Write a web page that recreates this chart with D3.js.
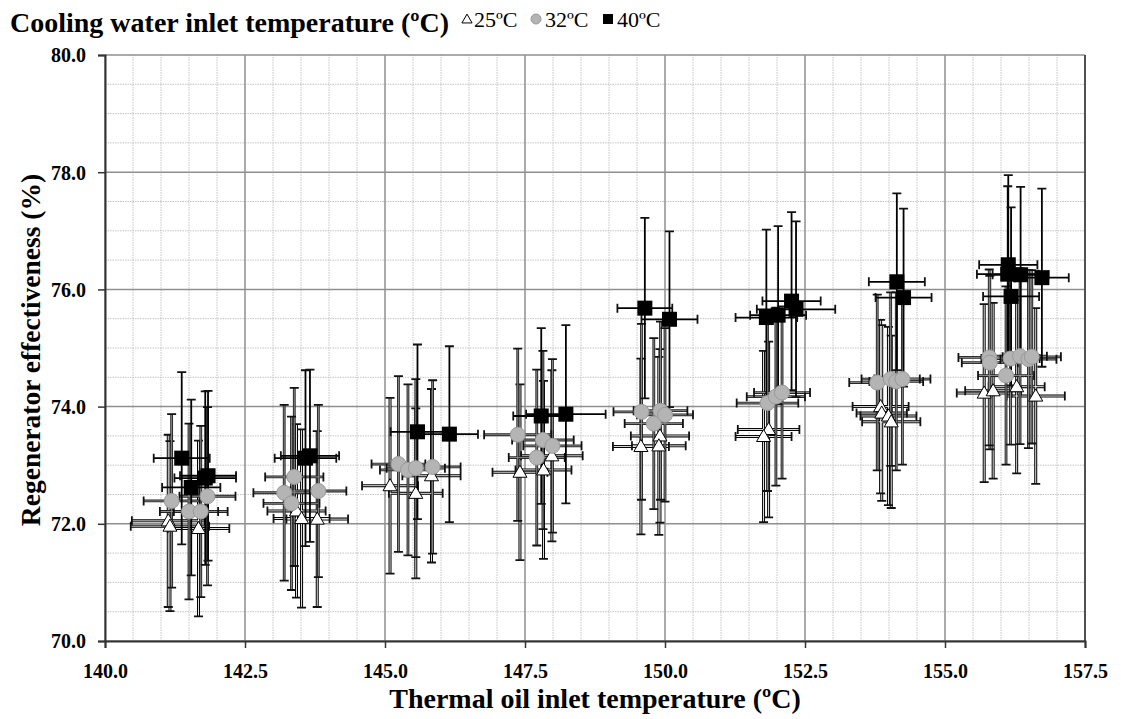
<!DOCTYPE html>
<html lang="en">
<head>
    <meta charset="UTF-8">
    <title>Regenerator effectiveness</title>
    <script src="https://cdn.jsdelivr.net/npm/d3@7"></script>
    <style>
        body { margin: 0; background: #fff; }
        svg text { font-family: "Liberation Serif", "Times New Roman", serif; }
    </style>
</head>
<body>
<svg id="chart" width="1121" height="719"></svg>
<script>
    // 25ºC series (triangles)
    var x25 = [141.13, 141.16, 141.67, 143.42, 143.51, 143.79, 145.09, 145.55, 145.83, 147.41, 147.83, 147.98,
        149.57, 149.91, 149.89, 151.85, 151.76, 153.85, 153.87, 153.99, 154.04, 155.70, 155.86, 156.28, 156.62];
    var y25 = [72.05, 71.96, 71.92, 72.22, 72.09, 72.08, 72.65, 72.52, 72.82, 72.88, 72.92, 73.16,
        73.32, 73.50, 73.33, 73.61, 73.49, 74.00, 73.89, 73.84, 73.74, 74.23, 74.27, 74.34, 74.18];
    var xe25 = [0.65, 0.70, 0.55, 0.52, 0.50, 0.55, 0.50, 0.48, 0.52, 0.49, 0.50, 0.55,
        0.50, 0.52, 0.48, 0.55, 0.50, 0.50, 0.45, 0.50, 0.52, 0.49, 0.50, 0.50, 0.52];
    var ye25 = [1.47, 1.45, 1.50, 1.48, 1.52, 1.50, 1.50, 1.45, 1.48, 1.50, 1.52, 1.46,
        1.50, 1.48, 1.52, 1.50, 1.46, 1.48, 1.50, 1.52, 1.47, 1.52, 1.50, 1.48, 1.50];

    // 32ºC series (circles)
    var x32 = [141.19, 141.50, 141.71, 141.83, 143.20, 143.33, 143.38, 143.81, 145.24, 145.41, 145.55, 145.85,
        147.37, 147.71, 147.82, 147.99, 149.58, 149.80, 149.92, 150.00, 151.83, 151.98, 152.09,
        153.79, 154.03, 154.13, 154.24, 155.79, 155.80, 156.09, 156.17, 156.34, 156.49, 156.55];
    var y32 = [72.39, 72.21, 72.21, 72.47, 72.53, 72.35, 72.80, 72.56, 73.02, 72.92, 72.95, 72.97,
        73.52, 73.13, 73.43, 73.33, 73.91, 73.71, 73.93, 73.86, 74.06, 74.17, 74.24,
        74.41, 74.47, 74.43, 74.47, 74.84, 74.75, 74.53, 74.82, 74.86, 74.81, 74.85];
    var xe32 = [0.50, 0.52, 0.48, 0.50, 0.55, 0.50, 0.52, 0.50, 0.48, 0.50, 0.52, 0.50,
        0.60, 0.50, 0.55, 0.52, 0.50, 0.52, 0.48, 0.50, 0.55, 0.52, 0.50,
        0.50, 0.52, 0.48, 0.50, 0.55, 0.50, 0.50, 0.52, 0.48, 0.50, 0.52];
    var ye32 = [1.48, 1.50, 1.46, 1.52, 1.50, 1.48, 1.52, 1.47, 1.50, 1.46, 1.52, 1.48,
        1.47, 1.50, 1.52, 1.48, 1.50, 1.46, 1.52, 1.48, 1.50, 1.52, 1.47,
        1.50, 1.48, 1.52, 1.46, 1.50, 1.48, 1.52, 1.47, 1.50, 1.52, 1.48];

    // 40ºC series (squares)
    var x40 = [141.37, 141.54, 141.79, 141.84, 143.58, 143.66, 145.58, 146.15, 147.79, 148.23,
        149.64, 150.08, 151.81, 152.02, 152.26, 152.34, 154.14, 154.26, 156.12, 156.13, 156.18, 156.35, 156.73];
    var y40 = [73.12, 72.62, 72.78, 72.82, 73.12, 73.16, 73.57, 73.53, 73.84, 73.87,
        75.68, 75.49, 75.52, 75.56, 75.80, 75.66, 76.13, 75.86, 76.26, 76.42, 75.88, 76.25, 76.20];
    var xe40 = [0.50, 0.52, 0.55, 0.50, 0.55, 0.52, 0.48, 0.51, 0.50, 0.71,
        0.49, 0.50, 0.55, 0.50, 0.52, 0.70, 0.50, 0.50, 0.55, 0.52, 0.50, 0.50, 0.48];
    var ye40 = [1.47, 1.50, 1.48, 1.45, 1.50, 1.47, 1.49, 1.50, 1.50, 1.52,
        1.54, 1.50, 1.50, 1.52, 1.52, 1.50, 1.51, 1.52, 1.50, 1.53, 1.52, 1.50, 1.52];

    var xTicks = [140.0, 142.5, 145.0, 147.5, 150.0, 152.5, 155.0, 157.5];
    var yTicks = [70.0, 72.0, 74.0, 76.0, 78.0, 80.0];

    var series = [
        { name: "25ºC", x: x25, y: y25, xe: xe25, ye: ye25, shape: "tri" },
        { name: "32ºC", x: x32, y: y32, xe: xe32, ye: ye32, shape: "circle" },
        { name: "40ºC", x: x40, y: y40, xe: xe40, ye: ye40, shape: "square" }
    ];

    var margin = { left: 105, right: 36, top: 55, bottom: 78 };
    var svg = d3.select("#chart");
    var width = +svg.attr("width"), height = +svg.attr("height");

    var x = d3.scaleLinear().domain([140, 157.5]).range([margin.left, width - margin.right]);
    var y = d3.scaleLinear().domain([70, 80]).range([height - margin.bottom, margin.top]);

    // minor grid every 0.5
    var grid = svg.append("g");
    var minorX = d3.range(140, 157.51, 0.5).filter(function (v) { return Math.abs(v / 2.5 - Math.round(v / 2.5)) > 1e-6; });
    var minorY = d3.range(70, 80.01, 0.5).filter(function (v) { return Math.abs(v / 2 - Math.round(v / 2)) > 1e-6; });
    grid.selectAll(".mx").data(minorX).enter().append("line")
        .attr("x1", d => x(d)).attr("x2", d => x(d))
        .attr("y1", y(70)).attr("y2", y(80))
        .attr("stroke", "#c4c4c4").attr("stroke-width", 1).attr("stroke-dasharray", "1.5,1");
    grid.selectAll(".my").data(minorY).enter().append("line")
        .attr("x1", x(140)).attr("x2", x(157.5))
        .attr("y1", d => y(d)).attr("y2", d => y(d))
        .attr("stroke", "#c4c4c4").attr("stroke-width", 1).attr("stroke-dasharray", "1.5,1");
    // major grid
    grid.selectAll(".Mx").data(xTicks).enter().append("line")
        .attr("x1", d => x(d)).attr("x2", d => x(d))
        .attr("y1", y(70)).attr("y2", y(80))
        .attr("stroke", "#8f8f8f").attr("stroke-width", 1.5);
    grid.selectAll(".My").data(yTicks).enter().append("line")
        .attr("x1", x(140)).attr("x2", x(157.5))
        .attr("y1", d => y(d)).attr("y2", d => y(d))
        .attr("stroke", "#8f8f8f").attr("stroke-width", 1.5);
    svg.append("line").attr("x1", x(157.5)).attr("x2", x(157.5)).attr("y1", y(70)).attr("y2", y(80))
        .attr("stroke", "#333").attr("stroke-width", 1.5);

    // axes
    var yAxis = d3.axisLeft(y).tickValues(yTicks).tickFormat(d3.format(".1f")).tickSize(7).tickPadding(12);
    var xAxis = d3.axisBottom(x).tickValues(xTicks).tickFormat(d3.format(".1f")).tickSize(7).tickPadding(16);
    var ga = svg.append("g").attr("transform", "translate(" + x(140) + ",0)").call(yAxis);
    var gb = svg.append("g").attr("transform", "translate(0," + y(70) + ")").call(xAxis);
    [ga, gb].forEach(function (g) {
        g.attr("font-family", null).attr("font-size", null);
        g.select(".domain").attr("stroke", "#333").attr("stroke-width", 2);
        g.selectAll(".tick line").attr("stroke", "#333").attr("stroke-width", 1.5);
        g.selectAll(".tick text").attr("fill", "#000")
            .style("font-family", '"Liberation Serif", serif').style("font-size", "20px").style("font-weight", "bold");
    });
    ga.selectAll(".tick text").attr("dy", "0.34em");

    // error bars
    var cap = 4.5;
    var eb = svg.append("g");
    var ebStyle = {
        tri: [{ c: "#000", w: 3 }, { c: "#fff", w: 0.9 }],
        circle: [{ c: "#222", w: 2.8 }, { c: "#8a8a8a", w: 1 }],
        square: [{ c: "#000", w: 1.8 }]
    };
    series.forEach(function (s) {
        var idx = d3.range(s.x.length);
        ebStyle[s.shape].forEach(function (st) {
            var g = eb.append("g").attr("stroke", st.c).attr("stroke-width", st.w).attr("fill", "none");
            g.selectAll(".v").data(idx).enter().append("path")
                .attr("d", function (i) {
                    var cx = x(s.x[i]), t = y(s.y[i] + s.ye[i]), b = y(s.y[i] - s.ye[i]);
                    return "M" + cx + "," + t + "V" + b;
                });
            g.selectAll(".h").data(idx).enter().append("path")
                .attr("d", function (i) {
                    var cy = y(s.y[i]), l = x(s.x[i] - s.xe[i]), r = x(s.x[i] + s.xe[i]);
                    return "M" + l + "," + cy + "H" + r;
                });
        });
        // caps
        var gc = eb.append("g").attr("stroke", "#111").attr("stroke-width", 1.8);
        gc.selectAll(".c").data(idx).enter().append("path")
            .attr("d", function (i) {
                var cx = x(s.x[i]), cy = y(s.y[i]);
                var t = y(s.y[i] + s.ye[i]), b = y(s.y[i] - s.ye[i]);
                var l = x(s.x[i] - s.xe[i]), r = x(s.x[i] + s.xe[i]);
                return "M" + (cx - cap) + "," + t + "H" + (cx + cap) +
                    "M" + (cx - cap) + "," + b + "H" + (cx + cap) +
                    "M" + l + "," + (cy - cap) + "V" + (cy + cap) +
                    "M" + r + "," + (cy - cap) + "V" + (cy + cap);
            });
    });

    // markers
    var symTri = d3.symbol().type(d3.symbolTriangle).size(85);
    series.forEach(function (s) {
        var idx = d3.range(s.x.length);
        var g = svg.append("g");
        if (s.shape === "tri") {
            g.selectAll("path").data(idx).enter().append("path")
                .attr("d", symTri)
                .attr("transform", i => "translate(" + x(s.x[i]) + "," + (y(s.y[i]) + 1) + ")")
                .attr("fill", "#fff").attr("stroke", "#000").attr("stroke-width", 1);
        } else if (s.shape === "circle") {
            g.selectAll("circle").data(idx).enter().append("circle")
                .attr("cx", i => x(s.x[i])).attr("cy", i => y(s.y[i])).attr("r", 7.5)
                .attr("fill", "#b4b4b4").attr("stroke", "#9a9a9a").attr("stroke-width", 1);
        } else {
            g.selectAll("rect").data(idx).enter().append("rect")
                .attr("x", i => x(s.x[i]) - 7.5).attr("y", i => y(s.y[i]) - 7.5)
                .attr("width", 15).attr("height", 15).attr("fill", "#000");
        }
    });

    // axis titles
    svg.append("text").attr("x", (x(140) + x(157.5)) / 2).attr("y", 708)
        .attr("text-anchor", "middle").style("font-size", "28px").style("font-weight", "bold")
        .text("Thermal oil inlet temperature (ºC)");
    svg.append("text").attr("transform", "translate(40," + ((y(70) + y(80)) / 2 + 2) + ") rotate(-90)")
        .attr("text-anchor", "middle").style("font-size", "27.5px").style("font-weight", "bold")
        .text("Regenerator effectiveness (%)");

    // legend
    var lg = svg.append("g");
    lg.append("text").attr("x", 10).attr("y", 32).style("font-size", "28px").style("font-weight", "bold")
        .text("Cooling water inlet temperature (ºC)");
    lg.append("path").attr("d", d3.symbol().type(d3.symbolTriangle).size(45))
        .attr("transform", "translate(467,20)").attr("fill", "#fff").attr("stroke", "#000").attr("stroke-width", 1);
    lg.append("text").attr("x", 474).attr("y", 27).style("font-size", "22px").text("25ºC");
    lg.append("circle").attr("cx", 536).attr("cy", 19).attr("r", 5).attr("fill", "#b4b4b4").attr("stroke", "#9a9a9a");
    lg.append("text").attr("x", 545).attr("y", 27).style("font-size", "22px").text("32ºC");
    lg.append("rect").attr("x", 603).attr("y", 14).attr("width", 10).attr("height", 10).attr("fill", "#000");
    lg.append("text").attr("x", 617).attr("y", 27).style("font-size", "22px").text("40ºC");
</script>
</body>
</html>
